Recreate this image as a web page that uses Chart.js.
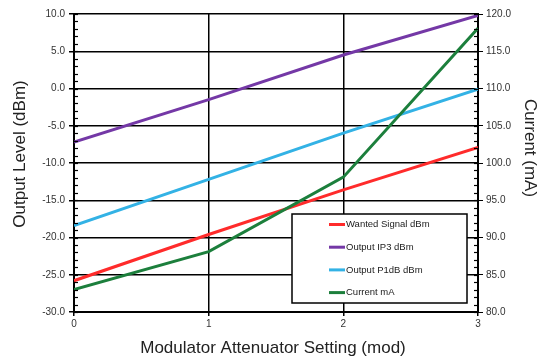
<!DOCTYPE html>
<html>
<head>
<meta charset="utf-8">
<script src="https://cdn.jsdelivr.net/npm/chart.js@4/dist/chart.umd.min.js"></script>
<style>
  html, body { margin: 0; padding: 0; background: #fff; }
  #wrap { width: 546px; height: 357px; }
</style>
</head>
<body>
<div id="wrap"><canvas id="myChart" width="546" height="357"></canvas></div>
<script>
// data
const settings = [0, 1, 2, 3];
const wantedSignal = [-25.8, -19.6, -13.6, -7.9];
const outputIP3 = [-7.2, -1.5, 4.5, 9.8];
const outputP1dB = [-18.4, -12.2, -6.0, -0.1];
const currentMA = [83.0, 88.1, 98.1, 118.1];
const seriesNames = ["Wanted Signal dBm", "Output IP3 dBm", "Output P1dB dBm", "Current mA"];
const seriesColors = ["#FF2B2B", "#7438A6", "#33B2E5", "#1C7F3C"];
const axisTitles = ["Modulator Attenuator Setting (mod)", "Output Level (dBm)", "Current (mA)"];

function toPoints(values) {
  return settings.map((s, i) => ({ x: s, y: values[i] }));
}

const tickFont = { family: "Liberation Sans, Arial, sans-serif", size: 10 };

// small inner ticks on both value axes, every 1 unit
const minorTicks = {
  id: "minorTicks",
  afterDraw(chart) {
    const ctx = chart.ctx;
    const area = chart.chartArea;
    ctx.save();
    ctx.strokeStyle = "#000";
    ctx.lineWidth = 1.2;
    const y = chart.scales.y;
    for (let v = -30; v <= 10; v += 1) {
      const p = Math.round(y.getPixelForValue(v)) + 0.5;
      ctx.beginPath();
      ctx.moveTo(area.left, p);
      ctx.lineTo(area.left + 4, p);
      ctx.stroke();
    }
    const y2 = chart.scales.y2;
    for (let v = 80; v <= 120; v += 1) {
      const p = Math.round(y2.getPixelForValue(v)) + 0.5;
      ctx.beginPath();
      ctx.moveTo(area.right - 4, p);
      ctx.lineTo(area.right, p);
      ctx.stroke();
    }
    ctx.restore();
  }
};

// axis titles, placed like the original (value-axis titles sit a bit above centre)
const titles = {
  id: "titles",
  afterDraw(chart) {
    const ctx = chart.ctx;
    ctx.save();
    ctx.fillStyle = "#222";
    ctx.font = "17px Liberation Sans, Arial, sans-serif";
    ctx.textAlign = "center";
    ctx.textBaseline = "middle";
    ctx.fillText(axisTitles[0], 273, 348);
    ctx.save();
    ctx.translate(20, 154);
    ctx.rotate(-Math.PI / 2);
    ctx.fillText(axisTitles[1], 0, 0);
    ctx.restore();
    ctx.save();
    ctx.translate(530, 148);
    ctx.rotate(Math.PI / 2);
    ctx.fillText(axisTitles[2], 0, 0);
    ctx.restore();
    ctx.restore();
  }
};

// boxed legend inside the plot area, lower right
const boxLegend = {
  id: "boxLegend",
  afterDraw(chart) {
    const ctx = chart.ctx;
    const left = 292, top = 214, right = 467, bottom = 303;
    ctx.save();
    ctx.fillStyle = "#fff";
    ctx.fillRect(left, top, right - left, bottom - top);
    ctx.strokeStyle = "#000";
    ctx.lineWidth = 1.5;
    ctx.strokeRect(left, top, right - left, bottom - top);
    ctx.font = "9.5px Liberation Sans, Arial, sans-serif";
    ctx.textBaseline = "middle";
    chart.data.datasets.forEach((ds, i) => {
      const yy = 224.5 + i * 22.7;
      ctx.strokeStyle = ds.borderColor;
      ctx.lineWidth = 3;
      ctx.beginPath();
      ctx.moveTo(329, yy);
      ctx.lineTo(345, yy);
      ctx.stroke();
      ctx.fillStyle = "#222";
      ctx.fillText(ds.label, 346, yy);
    });
    ctx.restore();
  }
};

const datasets = [wantedSignal, outputIP3, outputP1dB, currentMA].map((vals, i) => ({
  label: seriesNames[i],
  data: toPoints(vals),
  borderColor: seriesColors[i],
  backgroundColor: seriesColors[i],
  borderWidth: 3,
  pointRadius: 0,
  tension: 0,
  yAxisID: i === 3 ? "y2" : "y",
  order: 3 - i
}));

new Chart(document.getElementById("myChart").getContext("2d"), {
  type: "line",
  data: { datasets: datasets },
  options: {
    responsive: false,
    animation: false,
    layout: { padding: { top: 14, left: 0, right: 0, bottom: 0 } },
    plugins: { legend: { display: false }, tooltip: { enabled: false } },
    scales: {
      x: {
        type: "linear",
        min: 0,
        max: 3,
        ticks: { stepSize: 1, color: "#333", font: tickFont, padding: 2 },
        grid: { color: "#000", lineWidth: 1.5, tickLength: 4, tickColor: "#000" },
        border: { color: "#000", width: 2 },
        afterFit(scale) { scale.height = 45; }
      },
      y: {
        position: "left",
        min: -30,
        max: 10,
        ticks: { stepSize: 5, color: "#333", font: tickFont, padding: 4, callback: (v) => v.toFixed(1) },
        grid: { color: "#000", lineWidth: 1.5, tickLength: 5, tickColor: "#000" },
        border: { color: "#000", width: 2 },
        afterFit(scale) { scale.width = 74; }
      },
      y2: {
        position: "right",
        min: 80,
        max: 120,
        ticks: { stepSize: 5, color: "#333", font: tickFont, padding: 3, callback: (v) => v.toFixed(1) },
        grid: { drawOnChartArea: false, tickLength: 5, tickColor: "#000" },
        border: { color: "#000", width: 2 },
        afterFit(scale) { scale.width = 68; }
      }
    }
  },
  plugins: [minorTicks, titles, boxLegend]
});
</script>
</body>
</html>
